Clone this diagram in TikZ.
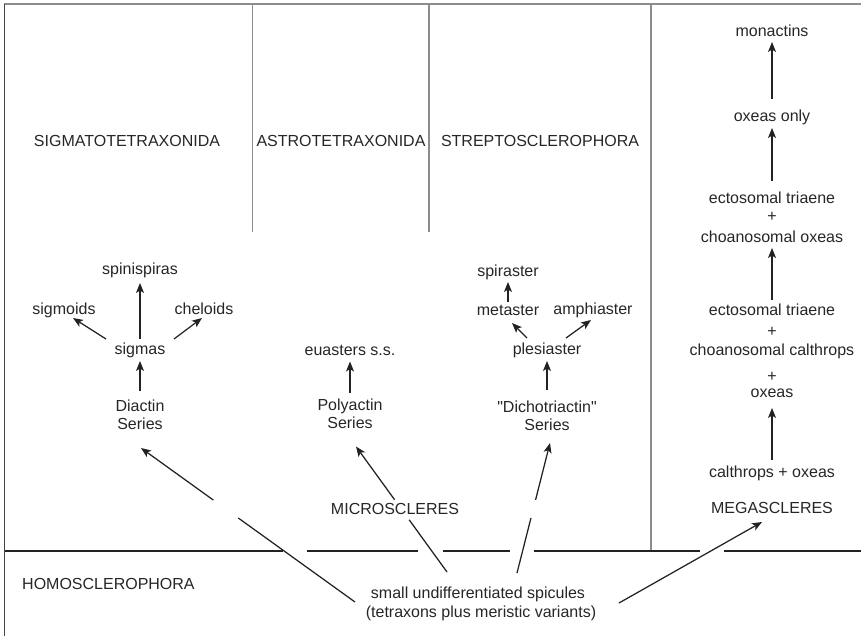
\documentclass[tikz,border=0pt]{standalone}
\usepackage{fontspec}
\setmainfont{Liberation Sans}[Ligatures=TeXOff]
\usetikzlibrary{arrows.meta,calc}
\definecolor{ink}{HTML}{262626}
\definecolor{rulegray}{HTML}{8C8C8C}
\definecolor{linedark}{HTML}{222222}
\begin{document}
\begin{tikzpicture}[x=1pt,y=-1pt,
  lbl/.style={font=\fontsize{16}{18}\selectfont, text=ink, inner sep=0pt, anchor=base},
  arr/.style={draw=linedark, line width=1.25pt, -{Stealth[length=10pt,width=8pt,inset=2.5pt]}},
  seg/.style={draw=linedark, line width=1.25pt},
  grayrule/.style={draw=rulegray, line width=1.4pt}]
\useasboundingbox (0,0) rectangle (861,636);

% outer frame and column dividers
\draw[grayrule, line width=1.8pt] (4,4) -- (861,4);
\draw[draw=linedark!85, line width=1.2pt] (4.5,4) -- (4.5,636);
\draw[grayrule] (252.5,4) -- (252.5,232);
\draw[grayrule] (429,4) -- (429,232);
\draw[grayrule, line width=2pt] (651,4) -- (651,551);

% boundary above the homoscleromorph row, broken where arrows pass
\draw[seg] (4.5,551) -- (283,551);
\draw[seg] (307,551) -- (418,551);
\draw[seg] (443,551) -- (510,551);
\draw[seg] (534,551) -- (700,551);
\draw[seg] (724,551) -- (861,551);

% order headings
\node[lbl] (hsig) at (127,146.5) {SIGMATOTETRAXONIDA};
\node[lbl] (hast) at (341,146.5) {ASTROTETRAXONIDA};
\node[lbl] (hstr) at (540,146.5) {STREPTOSCLEROPHORA};

% diactin series
\node[lbl] (spinispiras) at (140,274) {spinispiras};
\node[lbl] (sigmoids) at (64,314) {sigmoids};
\node[lbl] (cheloids) at (204,314.5) {cheloids};
\node[lbl] (sigmas) at (140,354) {sigmas};
\node[lbl] (diactin) at (140,411.5) {Diactin};
\node[lbl] (diactinS) at (140,429.5) {Series};

% polyactin series
\node[lbl] (euasters) at (350,355.5) {euasters s.s.};
\node[lbl] (polyactin) at (350,410) {Polyactin};
\node[lbl] (polyactinS) at (350,428) {Series};

% dichotriactin series
\node[lbl] (spiraster) at (508,276) {spiraster};
\node[lbl] (metaster) at (508,315.5) {metaster};
\node[lbl] (amphiaster) at (593,314) {amphiaster};
\node[lbl] (plesiaster) at (547,354) {plesiaster};
\node[lbl] (dicho) at (547,412) {"Dichotriactin"};
\node[lbl] (dichoS) at (547,430) {Series};

\node[lbl] (micro) at (395,514.5) {MICROSCLERES};

% megasclere sequence
\node[lbl] (monactins) at (772,37) {monactins};
\node[lbl] (oxonly) at (772,122) {oxeas only};
\node[lbl] (ectoA) at (772,203.5) {ectosomal triaene};
\node[lbl] (plusA) at (772,221.5) {+};
\node[lbl] (choanoA) at (772,242.5) {choanosomal oxeas};
\node[lbl] (ectoB) at (772,315.5) {ectosomal triaene};
\node[lbl] (plusB) at (772,336) {+};
\node[lbl] (choanoB) at (772,355) {choanosomal calthrops};
\node[lbl] (plusC) at (772,381.5) {+};
\node[lbl] (oxeas) at (772,397) {oxeas};
\node[lbl] (calox) at (772,477) {calthrops + oxeas};
\node[lbl] (mega) at (772,513.5) {MEGASCLERES};

% bottom row
\node[lbl, anchor=base west] (homo) at (22,589.5) {HOMOSCLEROPHORA};
\node[lbl] (spicA) at (478,598) {small undifferentiated spicules};
\node[lbl] (spicB) at (481,617) {(tetraxons plus meristic variants)};

% short arrows
\draw[arr] ($(sigmas.base)+(0,-15)$) -- ($(spinispiras.base)+(0,9)$);
\draw[arr] ($(sigmas.base)+(-34,-15)$) -- ($(sigmoids.base)+(9,4)$);
\draw[arr] ($(sigmas.base)+(34,-15)$) -- ($(cheloids.base)+(-2,3.5)$);
\draw[arr] ($(diactin.base)+(0,-20.5)$) -- ($(sigmas.base)+(0,7)$);

\draw[arr] ($(polyactin.base)+(0,-17)$) -- ($(euasters.base)+(0,6)$);

\draw[arr] ($(metaster.base)+(0,-13.5)$) -- ($(spiraster.base)+(0,6)$);
\draw[arr] ($(plesiaster.base)+(-20,-16)$) -- ($(metaster.base)+(4,7.5)$);
\draw[arr] ($(plesiaster.base)+(19,-16)$) -- ($(amphiaster.base)+(-2,6)$);
\draw[arr] ($(dicho.base)+(0,-22)$) -- ($(plesiaster.base)+(0,7)$);

\draw[arr] ($(oxonly.base)+(0,-23)$) -- ($(monactins.base)+(0,5)$);
\draw[arr] ($(ectoA.base)+(0,-22.5)$) -- ($(oxonly.base)+(0,6)$);
\draw[arr] ($(ectoB.base)+(0,-15.5)$) -- ($(choanoA.base)+(0,5.5)$);
\draw[arr] ($(calox.base)+(0,-17)$) -- ($(oxeas.base)+(0,11)$);

% long arrows from the undifferentiated spicules
\coordinate (dT) at ($(spicA.base)+(-123,4)$);
\coordinate (dH) at ($(diactinS.base)+(1,18.5)$);
\draw[seg] (dT) -- ($(dT)!0.545!(dH)$);
\draw[arr] ($(dT)!0.662!(dH)$) -- (dH);

\coordinate (pT) at ($(spicA.base)+(-31,-26)$);
\coordinate (pH) at ($(polyactinS.base)+(6,18.5)$);
\draw[seg] (pT) -- ($(pT)!0.416!(pH)$);
\draw[arr] ($(pT)!0.576!(pH)$) -- (pH);

\coordinate (cT) at ($(spicA.base)+(39,-25)$);
\coordinate (cH) at ($(dichoS.base)+(3,13)$);
\draw[seg] (cT) -- ($(cT)!0.423!(cH)$);
\draw[arr] ($(cT)!0.562!(cH)$) -- (cH);

\coordinate (mT) at ($(spicA.base)+(141,5)$);
\draw[arr] (mT) -- ($(mega.base)+(-10,8.5)$);
\end{tikzpicture}
\end{document}
